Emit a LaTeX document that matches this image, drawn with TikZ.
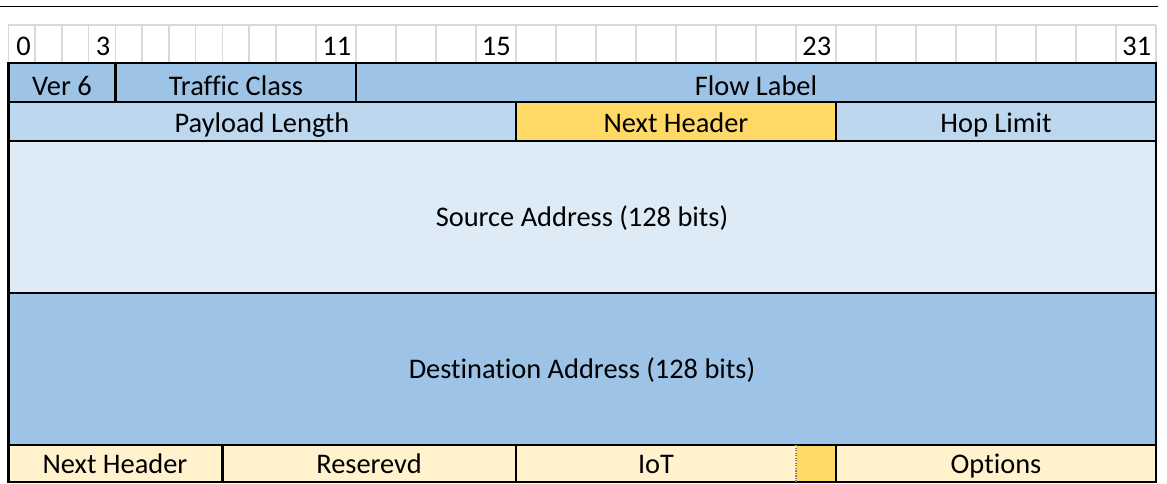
\documentclass[tikz,border=0pt]{standalone}
\usepackage{fontspec}
\setmainfont[Ligatures=CommonOff]{Carlito}
\definecolor{flowblue}{HTML}{9DC3E6}
\definecolor{lenblue}{HTML}{BDD7EE}
\definecolor{addrblue}{HTML}{DDEBF7}
\definecolor{nhgold}{HTML}{FFD966}
\definecolor{extcream}{HTML}{FFF2CC}
\definecolor{gridgray}{HTML}{D9D9D9}
\begin{document}
\begin{tikzpicture}[x=0.75pt,y=-0.75pt]
\tikzstyle{every node}+=[inner sep=0pt, font=\fontsize{21.3}{26}\selectfont]
\tikzstyle{fieldline}=[black, line width=1.9pt]
\tikzstyle{thinline}=[black, line width=0.9pt]
\tikzstyle{bitgrid}=[gridgray, line width=1.1pt]
\tikzstyle{field}=[anchor=base]
\useasboundingbox (0,0) rectangle (1167,483);
% cell fills
\fill [flowblue] (8.3,63) rectangle (1156,102);
\fill [lenblue] (8.3,102) rectangle (516,141);
\fill [nhgold] (516,102) rectangle (836,141);
\fill [lenblue] (836,102) rectangle (1156,141);
\fill [addrblue] (8.3,141) rectangle (1156,293);
\fill [flowblue] (8.3,293) rectangle (1156,445);
\fill [extcream] (8.3,445) rectangle (1156,482);
\fill [nhgold] (796,445) rectangle (836,482);
% top rule
\draw [black, line width=1.4pt] (0,6.5) -- (1158,6.5);
% bit ruler
\draw [bitgrid] (8.3,25) -- (1156,25);
\draw [bitgrid] (8.3,25) -- (8.3,62) (35.07,25) -- (35.07,62) (61.84,25) -- (61.84,62) (88.61,25) -- (88.61,62);
\draw [bitgrid] (115.38,25) -- (115.38,62) (142.15,25) -- (142.15,62) (168.92,25) -- (168.92,62) (195.69,25) -- (195.69,62);
\draw [bitgrid] (222.46,25) -- (222.46,62) (249.23,25) -- (249.23,62) (276,25) -- (276,62) (316,25) -- (316,62);
\draw [bitgrid] (356,25) -- (356,62) (396,25) -- (396,62) (436,25) -- (436,62) (476,25) -- (476,62);
\draw [bitgrid] (516,25) -- (516,62) (556,25) -- (556,62) (596,25) -- (596,62) (636,25) -- (636,62);
\draw [bitgrid] (676,25) -- (676,62) (716,25) -- (716,62) (756,25) -- (756,62) (796,25) -- (796,62);
\draw [bitgrid] (836,25) -- (836,62) (876,25) -- (876,62) (916,25) -- (916,62) (956,25) -- (956,62);
\draw [bitgrid] (996,25) -- (996,62) (1036,25) -- (1036,62) (1076,25) -- (1076,62) (1116,25) -- (1116,62);
\draw [bitgrid] (1156,25) -- (1156,62);
\node (b0) at (16,55) [anchor=base west] {0};
\node (b3) at (110.5,55) [anchor=base east] {3};
\node (b11) at (351.5,55) [anchor=base east] {11};
\node (b15) at (511,55) [anchor=base east] {15};
\node (b23) at (831.5,55) [anchor=base east] {23};
\node (b31) at (1151.5,55) [anchor=base east] {31};
% field borders
\draw [thinline] (8.3,102) -- (1156,102);
\draw [fieldline] (8.3,63) -- (1156,63);
\draw [fieldline] (8.3,141) -- (1156,141);
\draw [fieldline] (8.3,293) -- (1156,293);
\draw [fieldline] (8.3,445) -- (1156,445);
\draw [fieldline] (8.3,482) -- (1156,482);
\draw [fieldline] (8.3,62) -- (8.3,483);
\draw [fieldline] (1156,62) -- (1156,483);
\draw [fieldline] (115.38,63) -- (115.38,102);
\draw [fieldline] (356,63) -- (356,102);
\draw [fieldline] (516,102) -- (516,141);
\draw [fieldline] (836,102) -- (836,141);
\draw [fieldline] (222.46,445) -- (222.46,482);
\draw [fieldline] (516,445) -- (516,482);
\draw [gray, line width=0.9pt, densely dotted] (796,445) -- (796,482);
\draw [fieldline] (836,445) -- (836,482);
% field labels
\node (ver) at (62,95) [field] {Ver 6};
\node (tclass) at (236,95) [field] {Traffic Class};
\node (flow) at (756,95) [field] {Flow Label};
\node (plen) at (262,132.5) [field] {Payload Length};
\node (nhdr) at (676,132.5) [field] {Next Header};
\node (hop) at (996,132.5) [field] {Hop Limit};
\node (src) at (582,226.7) [field] {Source Address (128 bits)};
\node (dst) at (582,378) [field] {Destination Address (128 bits)};
\node (extnh) at (115,473) [field] {Next Header};
\node (resv) at (369,473) [field] {Reserevd};
\node (iot) at (656,473) [field] {IoT};
\node (opts) at (996,473) [field] {Options};
\end{tikzpicture}
\end{document}
